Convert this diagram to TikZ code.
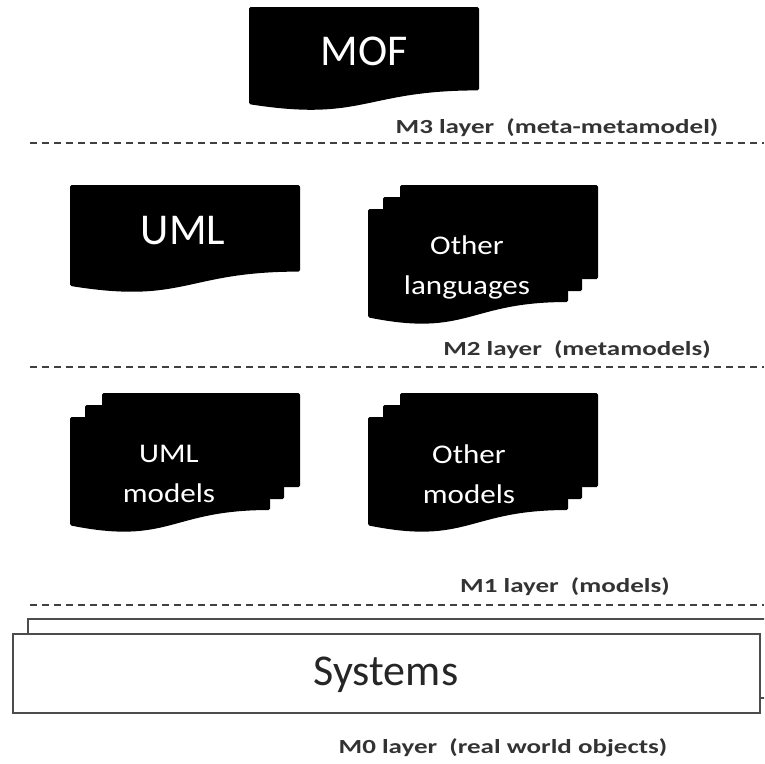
\documentclass[tikz,border=0pt]{standalone}
\usepackage{fontspec}
\setmainfont{Carlito}
\usepackage{graphicx}
\begin{document}
\begin{tikzpicture}[x=1pt,y=-1pt,
  docfill/.style={fill=black, rounded corners=1.5pt},
  bigtext/.style={font=\fontsize{44}{48}\selectfont, inner sep=0pt},
  midtext/.style={font=\fontsize{27}{40}\selectfont, text=white, align=center, inner sep=0pt},
  layertext/.style={font=\bfseries\fontsize{20}{22}\selectfont, text=black!80, inner sep=0pt},
  layerline/.style={draw=black!75, line width=1.6pt, dash pattern=on 7pt off 5pt},
  sysbox/.style={draw=black!70, line width=1.6pt, fill=white}]
\useasboundingbox (0,0) rectangle (764,764);
\clip (0,0) rectangle (764,764);

% document shape: left, top, width, height (wavy bottom edge)
\newcommand\docshape[4]{%
  \fill[docfill] (#1,#2) -- (#1+#3,#2) -- (#1+#3,#2+0.802*#4)
    .. controls (#1+0.5*#3,#2+0.802*#4) and (#1+0.5*#3,#2+1.107*#4) ..
    (#1,#2+0.934*#4) -- cycle;}
% stacked documents: left and top of the front sheet
\newcommand\multidoc[2]{%
  \fill[docfill] (#1+32,#2-24) rectangle (#1+230,#2+70);
  \fill[docfill] (#1+15,#2-12) rectangle (#1+214,#2+82);
  \docshape{#1}{#2}{200}{116}}

% M3
\docshape{249}{7}{230}{104}
\node[bigtext, text=white] (mof) at (364,51) {MOF};
\node[layertext] (m3) at (557,128) {\scalebox{1.35}[1]{M3 layer\ \ (meta-metamodel)}};
\coordinate (l3a) at (30,143);
\coordinate (l3b) at (764,143);
\draw[layerline] (l3a) -- (l3b);

% M2
\docshape{70}{185}{230}{108}
\node[bigtext, text=white] (uml) at (183,231) {UML};
\multidoc{368}{209}
\node[midtext] (otherlang) at (467,267) {\scalebox{1.15}[1]{Other}\\\scalebox{1.15}[1]{languages}};
\node[layertext] (m2) at (577,350) {\scalebox{1.35}[1]{M2 layer\ \ (metamodels)}};
\coordinate (l2a) at (30,367);
\coordinate (l2b) at (764,367);
\draw[layerline] (l2a) -- (l2b);

% M1
\multidoc{70}{417}
\node[midtext] (umlmodels) at (169,474) {\scalebox{1.15}[1]{UML}\\\scalebox{1.15}[1]{models}};
\multidoc{368}{417}
\node[midtext] (othermodels) at (469,474) {\scalebox{1.15}[1]{Other}\\\scalebox{1.15}[1]{models}};
\node[layertext] (m1) at (565,587) {\scalebox{1.35}[1]{M1 layer\ \ (models)}};
\coordinate (l1a) at (30,605);
\coordinate (l1b) at (764,605);
\draw[layerline] (l1a) -- (l1b);

% M0
\draw[sysbox] (28,619) rectangle (790,698);
\draw[sysbox] (13,634) rectangle (760,713);
\node[bigtext, text=black!85] (systems) at (386,675) {Systems};
\node[layertext] (m0) at (503,748) {\scalebox{1.35}[1]{M0 layer\ \ (real world objects)}};
\end{tikzpicture}
\end{document}
